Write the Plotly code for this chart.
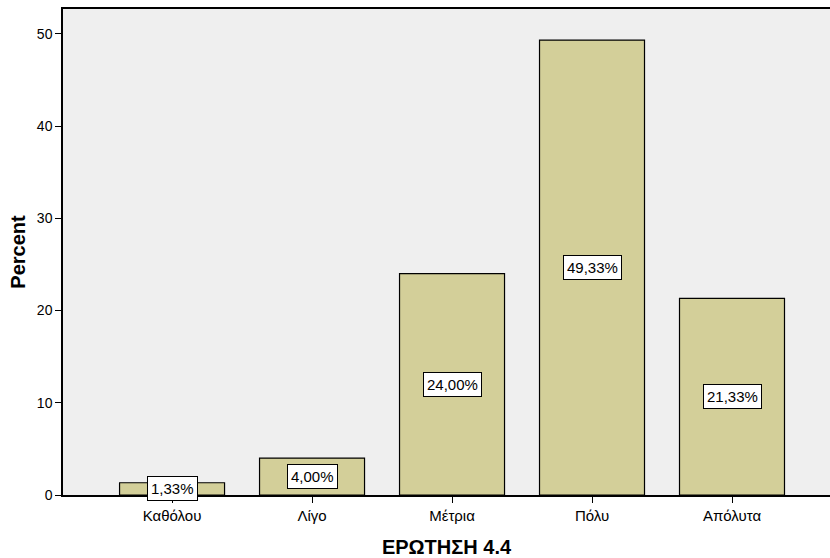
import plotly.graph_objects as go

categories = ["Καθόλου", "Λίγο", "Μέτρια", "Πόλυ", "Απόλυτα"]
percent = [1.33, 4.00, 24.00, 49.33, 21.33]
labels = ["1,33%", "4,00%", "24,00%", "49,33%", "21,33%"]

font = "Liberation Sans, Arial, sans-serif"

fig = go.Figure(
    go.Bar(
        x=categories,
        y=percent,
        width=0.75,
        marker=dict(color="#D3CF99", line=dict(color="black", width=1.2)),
        hoverinfo="skip",
    )
)

# value labels sit in the middle of each bar
for cat, val, lab in zip(categories, percent, labels):
    fig.add_annotation(
        x=cat,
        y=val / 2,
        text=lab,
        showarrow=False,
        font=dict(family=font, size=15, color="black"),
        bgcolor="white",
        bordercolor="black",
        borderwidth=1,
        borderpad=3,
    )

fig.update_layout(
    width=830,
    height=558,
    margin=dict(l=63, r=0, t=9, b=63),
    paper_bgcolor="white",
    plot_bgcolor="#EFEFEF",
    font=dict(family=font, size=14, color="black"),
    showlegend=False,
    xaxis=dict(
        range=[-0.779, 4.7],
        showline=True,
        linecolor="black",
        linewidth=1.5,
        mirror=True,
        ticks="outside",
        ticklen=6,
        tickcolor="black",
        tickfont=dict(size=15),
        showgrid=False,
        title=dict(text="<b>ΕΡΩΤΗΣΗ 4.4</b>", font=dict(family=font, size=20), standoff=17),
    ),
    yaxis=dict(
        range=[0, 52.7],
        tickvals=[0, 10, 20, 30, 40, 50],
        showline=True,
        linecolor="black",
        linewidth=1.5,
        ticks="outside",
        ticklen=6,
        tickcolor="black",
        tickfont=dict(size=14),
        showgrid=False,
        zeroline=False,
        title=dict(text="<b>Percent</b>", font=dict(family=font, size=20), standoff=6),
    ),
)

fig.write_html(
    "out.html",
    config={"displayModeBar": False},
    post_script="document.body.style.margin='0';",
)
